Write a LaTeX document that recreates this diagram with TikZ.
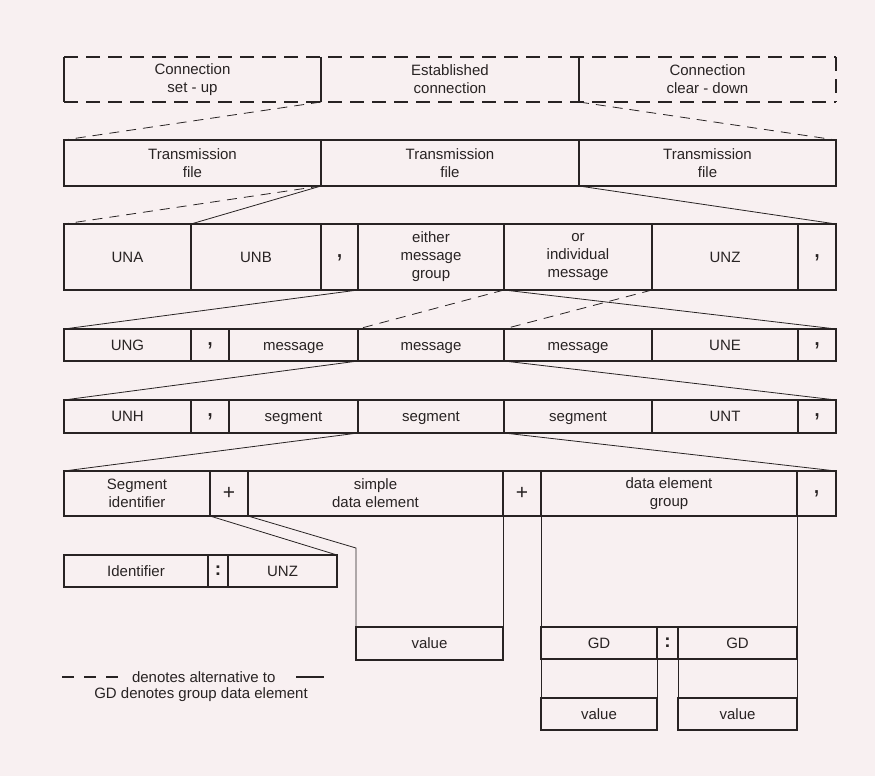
\documentclass[tikz,border=0pt]{standalone}
\usepackage{fontspec}
\setmainfont{Liberation Sans}
\usetikzlibrary{calc}
\definecolor{bg}{RGB}{248,240,241}
\definecolor{ink}{RGB}{40,35,35}
\newcommand\mkcell[7][]{\node[cellbox,#1,minimum width={(#5-#3)*1pt},minimum height={(#6-#4)*1pt}] (#2) at ({(#3+#5)/2},{(#4+#6)/2}) {#7};}
\begin{document}
\begin{tikzpicture}[x=1pt,y=-1pt,
  cellbox/.style={draw=ink,line width=1.4pt,inner sep=0pt,outer sep=0pt,align=center,
    font=\fontsize{15}{18}\selectfont,text=ink},
  word/.style={text height=11pt,text depth=0.3pt},
  punct/.style={font=\fontsize{27}{27}\selectfont,text height=6pt,text depth=6pt},
  plus/.style={font=\fontsize{21}{21}\selectfont},
  colon/.style={font=\fontsize{19}{19}\selectfont\bfseries},
  nobox/.style={draw=none},
  link/.style={draw=ink,line width=0.8pt},
  altlink/.style={link,dash pattern=on 10pt off 7pt},
  dashrow/.style={draw=ink,line width=1.4pt,dash pattern=on 14pt off 8pt},
  solidrow/.style={draw=ink,line width=1.4pt},
  legend/.style={inner sep=0pt,outer sep=0pt,text=ink,font=\fontsize{15}{18}\selectfont}]
\fill[bg] (0,0) rectangle (875,776);
\useasboundingbox (0,0) rectangle (875,776);

% Row 1 (dashed)
\mkcell[nobox]{s1}{64}{57}{321}{102}{Connection\\set - up}
\mkcell[nobox]{s2}{321}{57}{579}{102}{Established\\connection}
\mkcell[nobox]{s3}{579}{57}{836}{102}{Connection\\clear - down}
\draw[dashrow] (s1.north west) -- (s3.north east);
\draw[dashrow] (s1.south west) -- (s3.south east);
\draw[dashrow] (s3.north east) -- (s3.south east);
\draw[solidrow] (s1.north west) -- (s1.south west);
\draw[solidrow] (s2.north west) -- (s2.south west);
\draw[solidrow] (s3.north west) -- (s3.south west);

% Row 2
\mkcell{t1}{64}{140}{321}{186}{Transmission\\file}
\mkcell{t2}{321}{140}{579}{186}{Transmission\\file}
\mkcell{t3}{579}{140}{836}{186}{Transmission\\file}

% Row 3
\mkcell[word]{una}{64}{224}{191}{290}{UNA}
\mkcell[word]{unb}{191}{224}{321}{290}{UNB}
\mkcell[punct]{c3a}{321}{224}{358}{290}{,}
\mkcell{either}{358}{224}{504}{290}{either\\message\\group}
\mkcell{or}{504}{224}{652}{290}{or\\individual\\message}
\mkcell[word]{unz}{652}{224}{798}{290}{UNZ}
\mkcell[punct]{c3b}{798}{224}{836}{290}{,}

% Row 4
\mkcell[word]{ung}{64}{329}{191}{361}{UNG}
\mkcell[punct]{c4a}{191}{329}{229}{361}{,}
\mkcell[word]{m1}{229}{329}{358}{361}{message}
\mkcell[word]{m2}{358}{329}{504}{361}{message}
\mkcell[word]{m3}{504}{329}{652}{361}{message}
\mkcell[word]{une}{652}{329}{798}{361}{UNE}
\mkcell[punct]{c4b}{798}{329}{836}{361}{,}

% Row 5
\mkcell[word]{unh}{64}{400}{191}{433}{UNH}
\mkcell[punct]{c5a}{191}{400}{229}{433}{,}
\mkcell[word]{g1}{229}{400}{358}{433}{segment}
\mkcell[word]{g2}{358}{400}{504}{433}{segment}
\mkcell[word]{g3}{504}{400}{652}{433}{segment}
\mkcell[word]{unt}{652}{400}{798}{433}{UNT}
\mkcell[punct]{c5b}{798}{400}{836}{433}{,}

% Row 6
\mkcell{segid}{64}{471}{210}{516}{Segment\\identifier}
\mkcell[plus]{p1}{210}{471}{248}{516}{+}
\mkcell{sde}{248}{471}{503}{516}{simple\\data element}
\mkcell[plus]{p2}{503}{471}{541}{516}{+}
\mkcell{deg}{541}{471}{797}{516}{data element\\group}
\mkcell[punct]{c6}{797}{471}{836}{516}{,}

% Identifier row
\mkcell[word]{ident}{64}{555}{208}{587}{Identifier}
\mkcell[colon]{col1}{208}{555}{228}{587}{:}
\mkcell[word]{iunz}{228}{555}{337}{587}{UNZ}

% simple value
\mkcell[word]{sval}{356}{627}{503}{660}{value}

% GD row
\mkcell[word]{gd1}{541}{627}{657}{659}{GD}
\mkcell[colon]{col2}{657}{627}{678}{659}{:}
\mkcell[word]{gd2}{678}{627}{797}{659}{GD}
\mkcell[word]{v1}{541}{698}{657}{730}{value}
\mkcell[word]{v2}{678}{698}{797}{730}{value}

% connectors
\draw[altlink] (s2.south west) -- (t1.north west);
\draw[altlink] (s3.south west) -- (t3.north east);

\draw[altlink] (t2.south west) -- (una.north west);
\draw[link] (t2.south west) -- (unb.north west);
\draw[link] (t2.south east) -- (c3b.north east);

\draw[link] (either.south west) -- (ung.north west);
\draw[link] (either.south east) -- (c4b.north east);
\draw[altlink] (or.south west) -- (m2.north west);
\draw[altlink] (or.south east) -- (m2.north east);

\draw[link] (m2.south west) -- (unh.north west);
\draw[link] (m2.south east) -- (c5b.north east);

\draw[link] (g2.south west) -- (segid.north west);
\draw[link] (g2.south east) -- (c6.north east);

\draw[link] (p1.south west) -- (iunz.north east);
\coordinate (bend) at (356,548);
\draw[link] (sde.south west) -- (bend) -- (sval.north west);
\draw[link] (sde.south east) -- (sval.north east);

\draw[link] (deg.south west) -- (gd1.north west);
\draw[link] (deg.south east) -- (gd2.north east);

\draw[link] (gd1.south west) -- (v1.north west);
\draw[link] (gd1.south east) -- (v1.north east);
\draw[link] (gd2.south west) -- (v2.north west);
\draw[link] (gd2.south east) -- (v2.north east);

% legend
\coordinate (la) at (62,677);
\coordinate (lb) at (121,677);
\draw[draw=ink,line width=1.6pt,dash pattern=on 12pt off 10pt] (la) -- (lb);
\node[legend,anchor=west] (lt1) at (132,677) {denotes alternative to};
\coordinate (lc) at (296,677);
\coordinate (ld) at (324,677);
\draw[draw=ink,line width=1.4pt] (lc) -- (ld);
\node[legend] (lt2) at (201,695) {GD denotes group data element};
\end{tikzpicture}
\end{document}
